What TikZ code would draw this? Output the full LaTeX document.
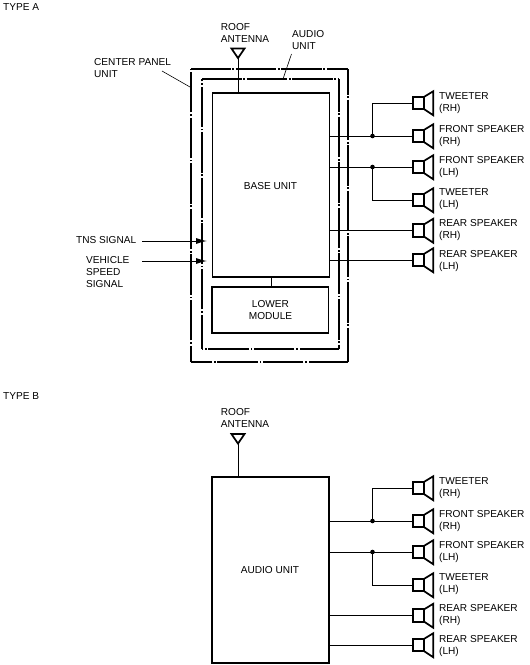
\documentclass[tikz,border=0pt]{standalone}
\usepackage{fontspec}
\setmainfont{Liberation Sans}
\usetikzlibrary{shapes.geometric,arrows.meta}
\tikzset{
  x=1pt,y=-1pt,
  lbl/.style={inner sep=0pt,font=\fontsize{10.1}{12}\selectfont,align=left,anchor=west},
  clbl/.style={inner sep=0pt,font=\fontsize{10.1}{12}\selectfont,align=center},
  unitbox/.style={draw,line width=1.7pt,anchor=north west,inner sep=0pt,outer sep=0pt},
  wire/.style={line width=1pt},
  leader/.style={line width=0.6pt},
  dotj/.style={circle,fill,inner sep=0pt,minimum size=4.6pt},
  panel/.style={line width=1.7pt,dash pattern=on 40.5pt off 1.7pt on 1.7pt off 1.7pt},
  spk/.style={draw,line width=1.7pt,inner sep=0pt,outer sep=0pt,minimum width=11.5pt,minimum height=12.5pt,
    append after command={
      \pgfextra{\draw[line width=1.7pt,line join=miter] (\tikzlastnode.north east) -- ++(9,-5.5) -- ++(0,24) -- (\tikzlastnode.south east);}
    }},
  ant/.style={isosceles triangle,isosceles triangle stretches,shape border rotate=-90,draw,line width=1.7pt,inner sep=0pt,outer sep=0pt,minimum width=13pt,minimum height=9.5pt}
}
\newcommand{\speakerset}[2]{% #1 offset y, #2 prefix
  \node[spk] (#2a) at (418.5,103+#1) {};
  \node[spk] (#2b) at (418.5,136+#1) {};
  \node[spk] (#2c) at (418.5,167+#1) {};
  \node[spk] (#2d) at (418.5,200+#1) {};
  \node[spk] (#2e) at (418.5,230.5+#1) {};
  \node[spk] (#2f) at (418.5,260+#1) {};
  \node[lbl] (#2la) at (439,103.5+#1) {TWEETER\\(RH)};
  \node[lbl] (#2lb) at (439,136.5+#1) {FRONT SPEAKER\\(RH)};
  \node[lbl] (#2lc) at (439,167.5+#1) {FRONT SPEAKER\\(LH)};
  \node[lbl] (#2ld) at (439,199.5+#1) {TWEETER\\(LH)};
  \node[lbl] (#2le) at (439,230+#1) {REAR SPEAKER\\(RH)};
  \node[lbl] (#2lf) at (439,261.5+#1) {REAR SPEAKER\\(LH)};
  \node[dotj] (#2j1) at (372.5,136+#1) {};
  \node[dotj] (#2j2) at (372.5,167+#1) {};
  \draw[wire] (#2j1.center) |- (#2a.west);
  \draw[wire] (#2j2.center) |- (#2d.west);
  \draw[wire] (#2j1.center) -- (#2b.west);
  \draw[wire] (#2j2.center) -- (#2c.west);
}
\begin{document}
\begin{tikzpicture}
\useasboundingbox (0,0) rectangle (530,665);
\node[lbl] (ta) at (3,7.5) {TYPE A};
\node[lbl] (tb) at (3,396.5) {TYPE B};
% ---- type A
\coordinate (o1) at (191,69); \coordinate (o2) at (348,69);
\coordinate (o3) at (348,362); \coordinate (o4) at (191,362);
\coordinate (i1) at (202,79); \coordinate (i2) at (339,79);
\coordinate (i3) at (339,349); \coordinate (i4) at (202,349);
\draw[panel,dash phase=24pt] (o4) -- (o1);
\draw[panel,dash phase=1pt] (o1) -- (o2);
\draw[panel,dash phase=15pt] (o2) -- (o3);
\draw[panel,dash phase=1pt] (o3) -- (o4);
\draw[panel,dash phase=6pt] (i4) -- (i1);
\draw[panel,dash phase=1pt] (i1) -- (i2);
\draw[panel,dash phase=8pt] (i2) -- (i3);
\draw[panel,dash phase=1pt] (i3) -- (i4);
\node[unitbox,minimum width=117pt,minimum height=184.5pt] (base) at (212.5,92.8) {};
\node[clbl] (baselbl) at (270.5,186.5) {BASE UNIT};
\node[unitbox,minimum width=116.5pt,minimum height=46pt] (lower) at (212,287) {};
\node[clbl] (lowerlbl) at (270.5,310.5) {LOWER\\MODULE};
\draw[wire] (271,277.5) coordinate (s1) -- (s1 |- lower.north);
\node[ant] (anta) at (238,52) {};
\draw[wire] (anta.apex) -- (anta.apex |- base.north);
\node[lbl] (antalbl) at (220.7,32.5) {ROOF\\ANTENNA};
\node[lbl] (audlbl) at (292,40.5) {AUDIO\\UNIT};
\coordinate (audl1) at (291.5,54); \coordinate (audl2) at (283,79);
\draw[leader] (audl1) -- (audl2);
\node[lbl] (cplbl) at (94,68.5) {CENTER PANEL\\UNIT};
\coordinate (cpl1) at (162,71); \coordinate (cpl2) at (190,87);
\draw[leader] (cpl1) -- (cpl2);
\speakerset{0}{A}
\draw[wire] (Aj1.center) -- (Aj1 -| base.east);
\draw[wire] (Aj2.center) -- (Aj2 -| base.east);
\draw[wire] (Ae.west) -- (Ae.west -| base.east);
\draw[wire] (Af.west) -- (Af.west -| base.east);
\node[lbl] (tns) at (76,240) {TNS SIGNAL};
\node[lbl] (vss) at (86,272.5) {VEHICLE\\SPEED\\SIGNAL};
\coordinate (tnsa) at (142,241); \coordinate (tnsb) at (207,241);
\coordinate (vssa) at (142,261); \coordinate (vssb) at (207,261);
\draw[wire,-{Latex[length=11pt,width=6pt]}] (tnsa) -- (tnsb);
\draw[wire,-{Latex[length=11pt,width=6pt]}] (vssa) -- (vssb);
% ---- type B
\node[unitbox,minimum width=117pt,minimum height=186pt] (audio) at (212,477) {};
\node[clbl] (audiolbl) at (270,570.5) {AUDIO UNIT};
\node[ant] (antb) at (238,437.5) {};
\draw[wire] (antb.apex) -- (antb.apex |- audio.north);
\node[lbl] (antblbl) at (220.7,417.5) {ROOF\\ANTENNA};
\speakerset{385}{B}
\draw[wire] (Bj1.center) -- (Bj1 -| audio.east);
\draw[wire] (Bj2.center) -- (Bj2 -| audio.east);
\draw[wire] (Be.west) -- (Be.west -| audio.east);
\draw[wire] (Bf.west) -- (Bf.west -| audio.east);
\end{tikzpicture}
\end{document}
